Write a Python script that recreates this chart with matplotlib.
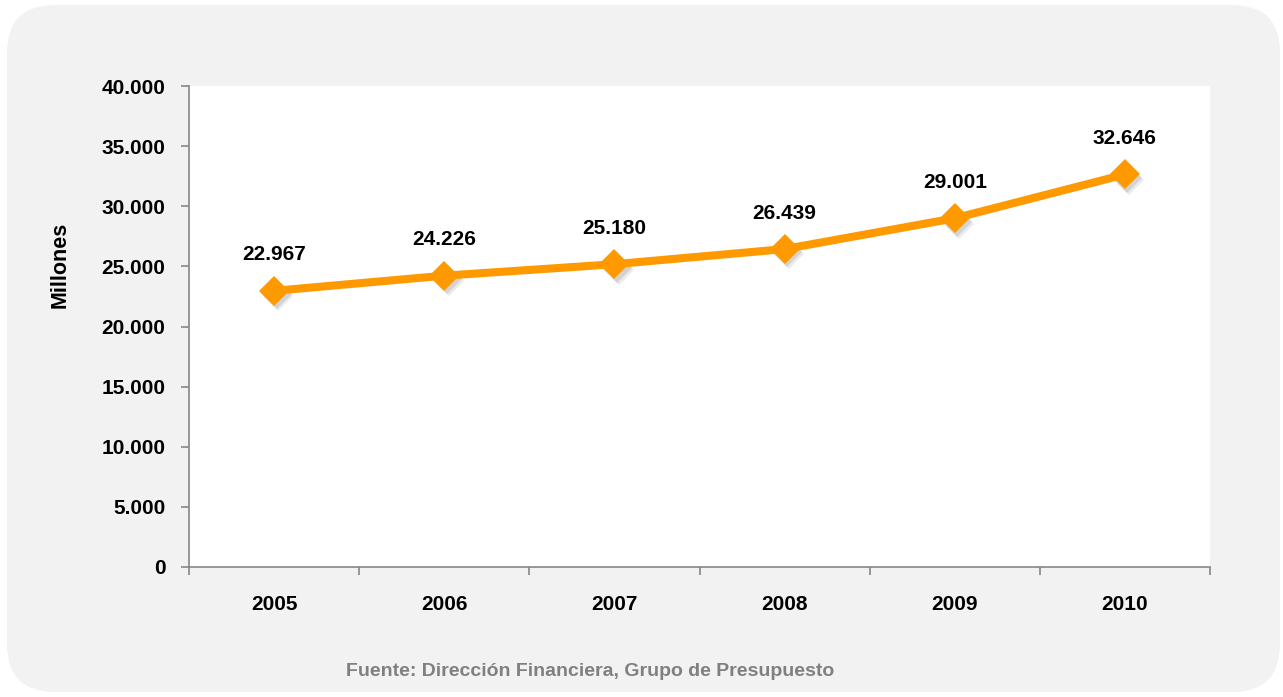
import matplotlib
matplotlib.use("Agg")
import matplotlib.pyplot as plt
from matplotlib.patches import FancyBboxPatch
from matplotlib.ticker import FuncFormatter, FixedLocator
from matplotlib import font_manager

# --- data ---
years = ["2005", "2006", "2007", "2008", "2009", "2010"]
values = [22967, 24226, 25180, 26439, 29001, 32646]
y_ticks = [0, 5000, 10000, 15000, 20000, 25000, 30000, 35000, 40000]
source_text = "Fuente: Dirección Financiera, Grupo de Presupuesto"

names = {f.name for f in font_manager.fontManager.ttflist}
family = ["Liberation Sans Narrow", "Liberation Sans", "DejaVu Sans"]
family = [f for f in family if f in names] or ["DejaVu Sans"]
plt.rcParams["font.family"] = family


def miles(v, _pos=None):
    return f"{int(v):,}".replace(",", ".")


W, H = 1283, 697
fig = plt.figure(figsize=(W / 100, H / 100), dpi=100)
fig.patch.set_facecolor("white")

# rounded grey panel behind everything, in pixel units
bg = fig.add_axes([0, 0, 1, 1], zorder=-1)
bg.set_xlim(0, W)
bg.set_ylim(0, H)
bg.axis("off")
bg.add_patch(FancyBboxPatch((7, 5), 1273, 687,
                            boxstyle="round,pad=0,rounding_size=48",
                            facecolor="#f2f2f2", edgecolor="none"))

ax = fig.add_axes([189 / W, 1 - 567 / H, 1021 / W, 481 / H])
ax.set_facecolor("white")

x = list(range(len(years)))

# soft marker shadow
for dx, dy, a in [(0.025, -450, 0.08), (0.015, -280, 0.10)]:
    ax.plot([i + dx for i in x], [v + dy for v in values], linestyle="none",
            marker="D", markersize=15, color="#000000", alpha=a,
            markeredgewidth=0, zorder=2, clip_on=False)
ax.plot(x, values, color="#ff9900", linewidth=5.8, marker="D",
        markersize=15, markeredgewidth=0, solid_capstyle="round",
        solid_joinstyle="round", zorder=3, clip_on=False)

for xi, v in zip(x, values):
    ax.annotate(miles(v), (xi, v), xytext=(0, 19), textcoords="offset points",
                ha="center", va="bottom", fontsize=15, fontweight="bold",
                color="#000000")

ax.set_xlim(-0.5, len(years) - 0.5)
ax.set_ylim(0, 40000)

ax.set_xticks(x)
ax.set_xticklabels(years)
ax.xaxis.set_minor_locator(FixedLocator([i - 0.5 for i in range(len(years) + 1)]))
ax.tick_params(axis="x", which="major", length=0, pad=20, labelsize=15)
ax.tick_params(axis="x", which="minor", length=6, width=1.2, color="#868686")

ax.set_yticks(y_ticks)
ax.yaxis.set_major_formatter(FuncFormatter(miles))
ax.tick_params(axis="y", length=6, width=1.2, color="#868686", pad=11, labelsize=15)

for lab in ax.get_xticklabels() + ax.get_yticklabels():
    lab.set_fontweight("bold")

for side in ("top", "right"):
    ax.spines[side].set_visible(False)
for side in ("left", "bottom"):
    ax.spines[side].set_color("#868686")
    ax.spines[side].set_linewidth(1.2)

fig.text(60 / W, 1 - 265 / H, "Millones", rotation=90, ha="center",
         va="center", fontsize=15.5, fontweight="bold")
fig.text(590 / W, 1 - 671 / H, source_text, ha="center", va="center",
         fontsize=14, fontweight="bold", color="#808080")

fig.savefig("out.png", dpi=100)
